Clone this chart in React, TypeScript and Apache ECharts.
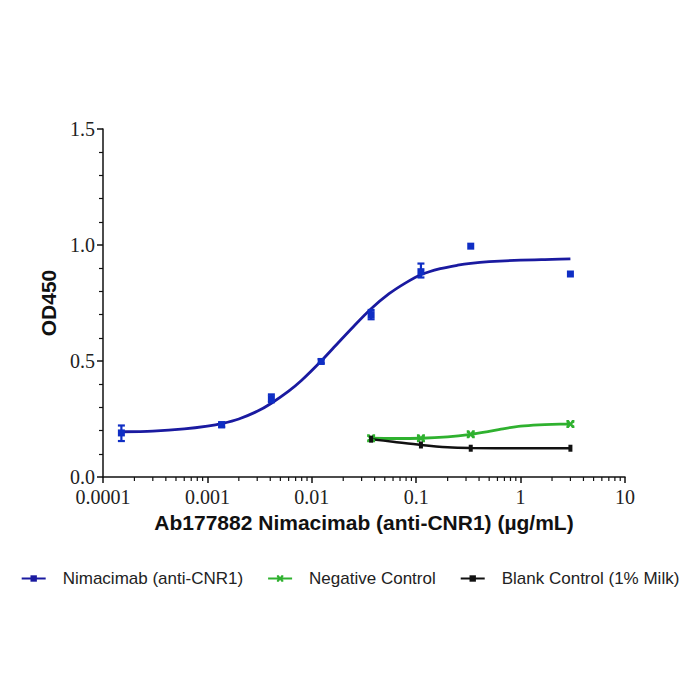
import React, { useEffect, useRef } from "react";
import * as echarts from "echarts";

// Measured points (concentration µg/mL)
const X_POINTS = [0.00015, 0.00137, 0.0041, 0.0123, 0.037, 0.111, 0.333, 3];
const BLUE_MEAN = [0.19, 0.225, 0.338, 0.498, 0.7, 0.885, 0.995, 0.875];
const BLUE_LOW = [0.155, 0.215, 0.322, 0.49, 0.68, 0.86, 0.995, 0.875];
const BLUE_HIGH = [0.222, 0.236, 0.356, 0.508, 0.72, 0.92, 0.995, 0.875];

const X_CTRL = [0.037, 0.111, 0.333, 3];
const GREEN_MEAN = [0.167, 0.167, 0.184, 0.228];
const BLACK_MEAN = [0.163, 0.138, 0.124, 0.124];

// Fitted curves
const BLUE_CURVE_X = [0.00015, 0.0003, 0.0006, 0.001, 0.0014, 0.002, 0.003, 0.0041, 0.006, 0.008, 0.0123, 0.018, 0.025, 0.037, 0.055, 0.08, 0.111, 0.17, 0.25, 0.333, 0.5, 1, 2, 3];
const BLUE_CURVE_Y = [0.195, 0.198, 0.207, 0.219, 0.231, 0.25, 0.283, 0.318, 0.37, 0.417, 0.5, 0.58, 0.648, 0.725, 0.79, 0.838, 0.872, 0.898, 0.913, 0.921, 0.928, 0.935, 0.938, 0.94];
const GREEN_CURVE_X = [0.037, 0.06, 0.111, 0.2, 0.333, 0.5, 0.7, 1, 1.5, 2, 3];
const GREEN_CURVE_Y = [0.167, 0.166, 0.167, 0.173, 0.184, 0.197, 0.209, 0.219, 0.225, 0.227, 0.228];
const BLACK_CURVE_X = [0.037, 0.06, 0.111, 0.2, 0.333, 1, 3];
const BLACK_CURVE_Y = [0.163, 0.152, 0.138, 0.128, 0.125, 0.124, 0.124];

const X_TICK_LABELS = ["0.0001", "0.001", "0.01", "0.1", "1", "10"];
const DECADES = [0.0001, 0.001, 0.01, 0.1, 1];
const MINOR_FACTORS = [2, 3, 4, 5, 6, 7, 8, 9];

const SERIES_NAMES = ["Nimacimab (anti-CNR1)", "Negative Control", "Blank Control (1% Milk)"];

const BLUE_LINE = "#1a1aa0";
const BLUE_MARK = "#0f2ec4";
const GREEN = "#2fb12f";
const BLACK = "#111111";

const SERIF = "'Liberation Serif', 'Times New Roman', serif";
const SANS = "'Liberation Sans', Arial, sans-serif";

const X_SYMBOL = "path://M0,0 L3,0 L5,3 L7,0 L10,0 L10,3 L7,5 L10,7 L10,10 L7,10 L5,7 L3,10 L0,10 L0,7 L3,5 L0,3 Z";

export default function App() {
  const ref = useRef<HTMLDivElement>(null);
  useEffect(() => {
    document.body.style.margin = "0";
    if (!ref.current) return;
    const chart = echarts.init(ref.current, null, { renderer: "svg" });

    const zip = (xs: number[], ys: number[]) => xs.map((x, i) => [x, ys[i]]);
    const minorData: number[][] = [];
    DECADES.forEach((d) => MINOR_FACTORS.forEach((f) => minorData.push([d * f, 0])));

    const errData = X_POINTS.map((x, i) => [x, BLUE_LOW[i], BLUE_HIGH[i]]).filter((d) => d[2] - d[1] > 0.001);

    const option: any = {
      animation: false,
      backgroundColor: "#ffffff",
      grid: { left: 103, right: 75, top: 129, bottom: 223, containLabel: false, outerBoundsMode: "none" },
      legend: {
        data: SERIES_NAMES,
        left: "center",
        top: 565,
        itemWidth: 24,
        itemHeight: 8,
        itemGap: 24,
        formatter: (n: string) => "{t|" + n + "}",
        textStyle: {
          fontFamily: SANS,
          fontSize: 17,
          color: "#222",
          rich: { t: { fontFamily: SANS, fontSize: 17, color: "#222", padding: [0, 0, 0, 12] } },
        },
      },
      xAxis: {
        type: "log",
        logBase: 10,
        min: 0.0001,
        max: 10,
        name: "Ab177882 Nimacimab (anti-CNR1) (µg/mL)",
        nameLocation: "middle",
        nameGap: 35,
        nameTextStyle: { fontFamily: SANS, fontWeight: "bold", fontSize: 21, color: "#111" },
        axisLine: { show: true, lineStyle: { color: "#111", width: 1.5 } },
        axisTick: { show: true, inside: false, length: 6, lineStyle: { color: "#111", width: 1.5 } },
        axisLabel: {
          margin: 11,
          fontFamily: SERIF,
          fontSize: 20,
          lineHeight: 18,
          color: "#222",
          formatter: (v: number) => {
            const idx = Math.round(Math.log10(v)) + 4;
            return X_TICK_LABELS[idx] ?? "";
          },
        },
        splitLine: { show: false },
      },
      yAxis: {
        type: "value",
        min: 0,
        max: 1.5,
        interval: 0.5,
        name: "OD450",
        nameLocation: "middle",
        nameGap: 34,
        nameRotate: 90,
        nameTextStyle: { fontFamily: SANS, fontWeight: "bold", fontSize: 21, color: "#111" },
        axisLine: { show: true, lineStyle: { color: "#111", width: 1.5 } },
        axisTick: { show: true, inside: false, length: 6, lineStyle: { color: "#111", width: 1.5 } },
        minorTick: { show: true, splitNumber: 5, length: 4, lineStyle: { color: "#111", width: 1.2 } },
        axisLabel: {
          margin: 8,
          fontFamily: SERIF,
          fontSize: 20,
          lineHeight: 16,
          color: "#222",
          formatter: (v: number) => v.toFixed(1),
        },
        splitLine: { show: false },
      },
      series: [
        {
          name: SERIES_NAMES[0],
          type: "line",
          data: zip(BLUE_CURVE_X, BLUE_CURVE_Y),
          smooth: 0.3,
          showSymbol: false,
          symbol: "rect",
          symbolSize: 7,
          lineStyle: { color: BLUE_LINE, width: 2.8 },
          itemStyle: { color: BLUE_LINE },
          z: 2,
        },
        {
          name: SERIES_NAMES[1],
          type: "line",
          data: zip(GREEN_CURVE_X, GREEN_CURVE_Y),
          smooth: 0.3,
          showSymbol: false,
          symbol: X_SYMBOL,
          symbolSize: 8,
          lineStyle: { color: GREEN, width: 2.8 },
          itemStyle: { color: GREEN },
          z: 2,
        },
        {
          name: SERIES_NAMES[2],
          type: "line",
          data: zip(BLACK_CURVE_X, BLACK_CURVE_Y),
          smooth: 0.3,
          showSymbol: false,
          symbol: "rect",
          symbolSize: [4, 8],
          lineStyle: { color: BLACK, width: 2.4 },
          itemStyle: { color: BLACK },
          z: 2,
        },
        {
          type: "scatter",
          data: zip(X_POINTS, BLUE_MEAN),
          symbol: "rect",
          symbolSize: 7,
          itemStyle: { color: BLUE_MARK, opacity: 1 },
          z: 4,
        },
        {
          type: "scatter",
          data: zip(X_CTRL, GREEN_MEAN),
          symbol: X_SYMBOL,
          symbolSize: 8,
          itemStyle: { color: GREEN, opacity: 1 },
          z: 4,
        },
        {
          type: "scatter",
          data: zip(X_CTRL, BLACK_MEAN),
          symbol: "rect",
          symbolSize: [4, 7],
          itemStyle: { color: BLACK, opacity: 1 },
          z: 4,
        },
        {
          type: "custom",
          data: errData,
          encode: { x: 0, y: [1, 2] },
          z: 4,
          renderItem: (params: any, api: any) => {
            const x = api.value(0);
            const p1 = api.coord([x, api.value(1)]);
            const p2 = api.coord([x, api.value(2)]);
            const w = 3.5;
            const st = { stroke: BLUE_MARK, lineWidth: 2.2 };
            return {
              type: "group",
              children: [
                { type: "line", shape: { x1: p1[0], y1: p1[1], x2: p2[0], y2: p2[1] }, style: st },
                { type: "line", shape: { x1: p1[0] - w, y1: p1[1], x2: p1[0] + w, y2: p1[1] }, style: st },
                { type: "line", shape: { x1: p2[0] - w, y1: p2[1], x2: p2[0] + w, y2: p2[1] }, style: st },
              ],
            };
          },
        },
        {
          type: "custom",
          data: minorData,
          encode: { x: 0, y: 1 },
          clip: false,
          silent: true,
          z: 5,
          renderItem: (params: any, api: any) => {
            const p = api.coord([api.value(0), 0]);
            return {
              type: "line",
              shape: { x1: p[0], y1: p[1], x2: p[0], y2: p[1] + 4 },
              style: { stroke: "#111", lineWidth: 1.2 },
            };
          },
        },
      ],
    };
    chart.setOption(option);
    return () => chart.dispose();
  }, []);
  return <div ref={ref} style={{ width: 700, height: 700 }} />;
}
